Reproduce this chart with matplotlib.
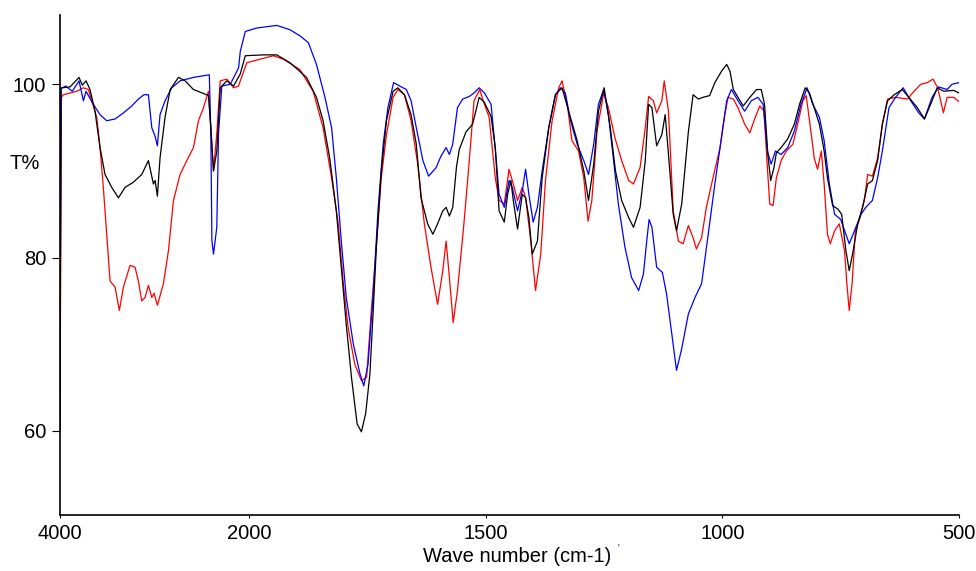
import numpy as np
import matplotlib
matplotlib.use("Agg")
import matplotlib.pyplot as plt

plt.rcParams['font.family'] = ['Liberation Sans', 'DejaVu Sans']

# spectrum readings (wavenumber cm-1, transmittance %)
red_wn = [4000, 3985, 3965, 3823, 3753, 3700, 3665, 3612, 3577, 3542, 3507, 3471, 3418, 3373, 3330,
          3260, 3207, 3172, 3136, 3101, 3066, 3030, 3006, 2971, 2907, 2854, 2801, 2731, 2660, 2590,
          2537, 2484, 2431, 2378, 2343, 2307, 2237, 2166, 2113, 2095, 2025, 1977, 1949, 1928, 1893,
          1865, 1844, 1826, 1812, 1801, 1791, 1777, 1763, 1752, 1742, 1731, 1721, 1710, 1696, 1686,
          1672, 1658, 1644, 1630, 1616, 1602, 1591, 1584, 1577, 1569, 1560, 1547, 1535, 1525, 1513,
          1503, 1493, 1480, 1472, 1461, 1451, 1444, 1433, 1423, 1416, 1405, 1395, 1384, 1374, 1360,
          1346, 1339, 1328, 1318, 1304, 1293, 1284, 1276, 1265, 1251, 1241, 1227, 1213, 1198, 1188,
          1174, 1163, 1156, 1146, 1139, 1128, 1123, 1114, 1104, 1093, 1083, 1072, 1062, 1055, 1044,
          1034, 1020, 1005, 995, 988, 977, 967, 953, 942, 932, 921, 912, 905, 900, 893,
          886, 876, 865, 851, 841, 830, 823, 814, 806, 799, 791, 785, 778, 772, 763,
          753, 742, 737, 732, 726, 719, 711, 700, 693, 683, 672, 662, 651, 634, 609,
          595, 581, 567, 555, 545, 533, 525, 511, 500]
red_t = [61.5, 98.5, 98.8, 99.2, 99.6, 99.4, 98.1, 96.2, 92.7, 88.1, 82.7, 77.3, 76.6, 73.9, 76.6,
         79.1, 78.9, 77.3, 75.0, 75.4, 76.8, 75.4, 75.9, 74.5, 77.0, 80.8, 86.6, 89.6, 91.2, 92.7,
         95.8, 97.3, 99.2, 90.0, 94.3, 100.4, 100.6, 99.6, 99.8, 100.4, 102.5, 102.9, 103.3, 102.9, 101.7,
         99.2, 95.0, 89.2, 83.9, 76.9, 71.9, 67.7, 65.8, 66.2, 73.9, 81.6, 89.2, 94.2, 98.5, 99.4,
         98.8, 95.8, 90.8, 83.9, 78.9, 74.6, 78.5, 81.9, 77.7, 72.5, 76.2, 83.5, 91.2, 98.1, 99.4,
         97.7, 96.2, 89.2, 86.6, 86.2, 90.2, 88.9, 86.6, 88.1, 86.9, 81.9, 76.2, 80.4, 88.9, 95.8,
         99.6, 100.4, 97.7, 93.5, 92.3, 89.2, 84.2, 86.6, 94.6, 99.0, 97.3, 93.8, 91.2, 88.9, 88.5,
         90.4, 95.0, 98.6, 98.1, 96.7, 98.1, 100.4, 96.9, 85.4, 81.9, 81.6, 83.7, 82.3, 81.0, 82.3,
         85.8, 89.2, 92.7, 96.5, 98.5, 98.3, 97.3, 95.4, 94.4, 96.0, 97.5, 96.9, 90.4, 86.2, 86.0,
         89.2, 91.2, 92.3, 93.1, 95.4, 98.1, 98.7, 95.0, 91.5, 90.2, 92.3, 88.5, 82.7, 81.6, 83.1,
         83.9, 80.8, 77.0, 73.9, 77.0, 83.1, 84.3, 86.6, 89.6, 89.4, 91.5, 95.4, 98.3, 98.5, 98.3,
         99.2, 100.0, 100.2, 100.6, 99.6, 96.7, 98.5, 98.5, 98.0]

black_wn = [4000, 3990, 3982, 3894, 3799, 3764, 3725, 3683, 3630, 3577, 3524, 3453, 3383, 3313, 3225,
            3136, 3066, 3013, 2995, 2971, 2943, 2890, 2836, 2748, 2677, 2590, 2519, 2431, 2406, 2378,
            2343, 2307, 2237, 2166, 2095, 2042, 1970, 1942, 1914, 1879, 1858, 1844, 1830, 1816, 1805,
            1795, 1784, 1772, 1763, 1754, 1745, 1738, 1731, 1721, 1710, 1696, 1686, 1672, 1658, 1647,
            1637, 1623, 1612, 1602, 1591, 1584, 1577, 1570, 1562, 1556, 1542, 1528, 1514, 1503, 1489,
            1480, 1472, 1461, 1454, 1447, 1442, 1433, 1423, 1416, 1409, 1402, 1391, 1381, 1367, 1353,
            1339, 1325, 1307, 1293, 1283, 1272, 1262, 1250, 1237, 1226, 1213, 1198, 1188, 1174, 1163,
            1156, 1149, 1139, 1128, 1121, 1114, 1104, 1097, 1086, 1072, 1062, 1051, 1041, 1027, 1016,
            1002, 991, 984, 977, 967, 956, 942, 928, 918, 911, 904, 898, 891, 886, 876,
            862, 848, 837, 825, 816, 806, 795, 785, 778, 767, 756, 748, 739, 732, 725,
            714, 704, 693, 683, 672, 662, 651, 637, 620, 606, 588, 573, 560, 546, 532,
            511, 500]
black_t = [60.0, 99.5, 99.6, 99.7, 100.8, 99.9, 100.4, 99.4, 96.9, 92.7, 89.6, 88.1, 86.9, 88.1, 88.7,
           89.6, 91.2, 88.5, 88.9, 87.1, 91.5, 96.2, 99.4, 100.8, 100.4, 99.4, 99.1, 98.7, 95.0, 90.0,
           92.3, 99.6, 100.4, 99.8, 101.2, 103.3, 103.4, 103.4, 102.5, 100.8, 98.5, 95.8, 91.5, 85.4, 78.5,
           72.3, 66.2, 60.8, 59.9, 62.0, 66.6, 73.9, 81.6, 90.0, 95.8, 99.2, 99.6, 98.8, 96.5, 93.1,
           86.9, 83.9, 82.7, 83.9, 85.4, 85.8, 84.8, 85.8, 90.5, 92.5, 94.5, 95.4, 98.5, 97.9, 96.3,
           92.7, 85.4, 84.1, 87.3, 88.9, 86.6, 83.3, 87.3, 86.9, 84.6, 80.4, 81.9, 89.2, 95.0, 98.8,
           99.6, 96.9, 93.5, 90.0, 86.6, 90.8, 96.9, 99.6, 95.0, 90.0, 86.6, 84.6, 83.5, 85.8, 91.2,
           97.7, 97.3, 92.9, 94.2, 96.5, 91.9, 85.0, 83.1, 86.2, 94.5, 98.8, 98.3, 98.5, 98.7, 100.2,
           101.5, 102.3, 101.5, 99.4, 98.5, 97.5, 98.5, 99.4, 99.4, 97.7, 91.9, 88.9, 90.4, 92.1, 92.7,
           93.7, 95.4, 97.7, 99.6, 99.0, 97.3, 95.4, 92.3, 89.2, 86.0, 85.6, 85.0, 80.8, 78.5, 80.4,
           83.9, 85.8, 88.5, 88.9, 91.2, 95.4, 98.1, 98.8, 99.4, 98.5, 97.3, 96.0, 97.7, 99.6, 99.2,
           99.3, 99.0]

blue_wn = [4000, 3988, 3976, 3941, 3870, 3799, 3753, 3725, 3648, 3577, 3507, 3418, 3330, 3242, 3172,
           3113, 3066, 3030, 2995, 2971, 2943, 2890, 2819, 2731, 2590, 2422, 2406, 2395, 2378, 2343,
           2325, 2290, 2201, 2113, 2095, 2042, 1984, 1942, 1914, 1893, 1875, 1858, 1840, 1826, 1816,
           1805, 1795, 1780, 1766, 1758, 1749, 1738, 1728, 1717, 1707, 1695, 1682, 1668, 1658, 1647,
           1633, 1621, 1605, 1595, 1584, 1577, 1570, 1560, 1549, 1535, 1525, 1514, 1503, 1489, 1479,
           1472, 1461, 1451, 1444, 1433, 1423, 1416, 1409, 1400, 1391, 1381, 1367, 1353, 1342, 1332,
           1321, 1307, 1293, 1283, 1272, 1262, 1251, 1241, 1230, 1220, 1206, 1192, 1177, 1167, 1160,
           1155, 1149, 1139, 1127, 1118, 1107, 1097, 1086, 1072, 1058, 1044, 1030, 1016, 1002, 991,
           981, 967, 953, 939, 925, 914, 905, 897, 888, 876, 862, 848, 834, 821, 809,
           795, 785, 774, 763, 750, 739, 732, 721, 707, 697, 683, 672, 662, 648, 634,
           618, 602, 585, 573, 557, 543, 525, 515, 500]
blue_t = [69.0, 99.5, 99.6, 99.8, 99.2, 100.4, 98.1, 99.2, 97.7, 96.5, 95.8, 96.0, 96.7, 97.5, 98.3,
          98.8, 98.8, 95.0, 94.0, 92.9, 96.5, 98.1, 99.6, 100.4, 100.8, 101.1, 94.3, 82.0, 80.4, 83.5,
          94.3, 99.8, 100.0, 101.9, 103.8, 106.1, 106.5, 106.8, 106.3, 105.6, 104.8, 102.3, 98.5, 95.0, 89.2,
          81.6, 75.4, 70.0, 66.6, 65.2, 67.7, 75.8, 85.4, 93.1, 97.3, 100.2, 99.8, 99.4, 98.1, 95.0,
          91.2, 89.4, 90.4, 91.7, 92.7, 91.9, 93.1, 97.3, 98.3, 98.6, 99.0, 99.6, 99.0, 97.7, 91.9,
          87.3, 85.8, 88.9, 88.1, 85.4, 87.7, 90.2, 87.3, 84.1, 85.8, 90.0, 95.0, 98.8, 99.6, 99.0,
          95.8, 93.1, 91.2, 89.6, 93.1, 97.7, 99.4, 96.5, 91.2, 86.2, 81.2, 77.7, 76.2, 78.1, 81.9,
          84.4, 83.5, 78.9, 78.3, 75.8, 71.2, 67.0, 69.5, 73.5, 75.4, 77.0, 82.7, 88.5, 93.9, 98.1,
          99.4, 98.1, 96.9, 98.1, 98.5, 97.7, 92.3, 90.8, 92.3, 91.9, 92.7, 94.6, 97.7, 99.6, 97.7,
          96.2, 93.5, 88.5, 85.0, 84.4, 82.7, 81.6, 83.1, 85.0, 85.8, 86.6, 89.2, 92.3, 97.3, 98.5,
          99.6, 98.1, 96.7, 96.0, 98.5, 99.7, 99.4, 100.0, 100.2]

x_ticks = [4000, 2000, 1500, 1000, 500]
y_ticks = [60, 80, 100]


# the spectrometer squeezes 4000-2000 five times compared with 2000-500
def fwd(w):
    w = np.asarray(w, dtype=float)
    return np.where(w <= 2000, w, 2000 + (w - 2000) / 5.0)


def inv(u):
    u = np.asarray(u, dtype=float)
    return np.where(u <= 2000, u, 2000 + (u - 2000) * 5.0)


fig = plt.figure(figsize=(9.76, 5.71), dpi=100)
ax = fig.add_axes([60 / 976, 1 - 515 / 571, 899 / 976, 500 / 571])

ax.plot(red_wn, red_t, color='red', lw=0.9)
ax.plot(blue_wn, blue_t, color='blue', lw=0.9)
ax.plot(black_wn, black_t, color='black', lw=0.9)

ax.set_xscale('function', functions=(fwd, inv))
ax.set_xlim(4000, 500)
ax.set_ylim(50.3, 108)
ax.set_xticks(x_ticks)
ax.set_xticklabels([str(t) for t in x_ticks])
ax.set_yticks(y_ticks)
ax.set_yticklabels([str(t) for t in y_ticks])
ax.minorticks_off()

for s in ['top', 'right']:
    ax.spines[s].set_visible(False)
ax.spines['left'].set_linewidth(1.2)
ax.spines['bottom'].set_linewidth(1.2)
ax.tick_params(axis='x', direction='out', length=2.5, pad=4, labelsize=14.5)
ax.tick_params(axis='y', direction='out', length=6, pad=4, labelsize=14.5)

fig.text(517 / 976, 1 - 557 / 571, "Wave number (cm-1)", fontsize=14.5, ha='center', va='center')
fig.text(10 / 976, 1 - 163 / 571, "T%", fontsize=14.5, va='center', ha='left')
fig.text(617 / 976, 1 - 549 / 571, "'", fontsize=7, color='blue', va='center')

fig.savefig("out.png", dpi=100)
